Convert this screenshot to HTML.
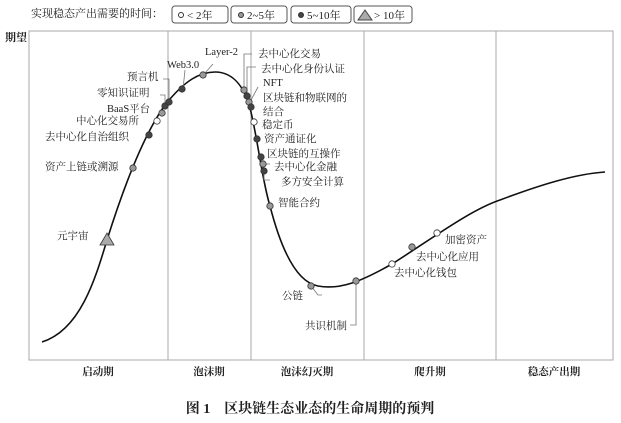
<!DOCTYPE html>
<html><head><meta charset="utf-8"><style>
html,body{margin:0;padding:0;background:#fff;}
svg{display:block;font-family:"Liberation Serif","Noto Serif CJK SC",serif;}
</style></head><body>
<svg width="621" height="423" viewBox="0 0 621 423" xmlns="http://www.w3.org/2000/svg">
<g font-size="11" fill="#222">
<text x="31" y="17">实现稳态产出需要的时间：</text>
</g>
<g fill="none" stroke="#555" stroke-width="1">
<rect x="172" y="6" width="56" height="17" rx="3"/>
<rect x="231" y="6" width="56" height="17" rx="3"/>
<rect x="291" y="6" width="60" height="17" rx="3"/>
<rect x="354" y="6" width="58" height="17" rx="3"/>
</g>
<g font-size="11" fill="#222">
<circle cx="181" cy="15" r="2.5" fill="#fff" stroke="#333"/><text x="187" y="19">&lt; 2年</text>
<circle cx="241" cy="15" r="2.5" fill="#999" stroke="#333"/><text x="247" y="19">2~5年</text>
<circle cx="301" cy="15" r="2.5" fill="#444" stroke="#333"/><text x="307" y="19">5~10年</text>
<polygon points="358,20 365,10 372,20" fill="#aaa" stroke="#444"/><text x="374" y="19">&gt; 10年</text>
</g>
<text x="5" y="41" font-size="11" fill="#222" font-weight="bold">期望</text>
<rect x="29" y="31" width="584" height="329" fill="none" stroke="#aaa" stroke-width="1"/>
<g stroke="#aaa" stroke-width="1">
<line x1="168" y1="31" x2="168" y2="360"/>
<line x1="251" y1="31" x2="251" y2="360"/>
<line x1="364" y1="31" x2="364" y2="360"/>
<line x1="496" y1="31" x2="496" y2="360"/>
</g>
<g font-size="10.5" fill="#222" text-anchor="middle" font-weight="bold">
<text x="98" y="375">启动期</text>
<text x="209" y="375">泡沫期</text>
<text x="307" y="375">泡沫幻灭期</text>
<text x="430" y="375">爬升期</text>
<text x="554" y="375">稳态产出期</text>
</g>
<text x="310" y="413" font-size="14" fill="#222" font-weight="bold" text-anchor="middle">图 1　区块链生态业态的生命周期的预判</text>
<path d="M42,342 C80,330 95,280 107,240 C118,205 140,140 165,105 C185,80 200,72 215,72 C235,72 245,90 250,108 C258,140 262,180 270,206 C280,245 295,282 318,286 C340,290 360,282 392,264 C430,240 470,210 500,200 C540,185 575,174 605,172" fill="none" stroke="#111" stroke-width="1.6"/>
<g stroke="#777" stroke-width="0.8" fill="none">
<polyline points="205,73 213,64"/>
<polyline points="183,89 185,70"/>
<polyline points="169,102 169,79 163,79"/>
<polyline points="165,105 165,95 160,95"/>
<polyline points="244,90 244,54 252,54"/>
<polyline points="247,96 247,67 256,67"/>
<polyline points="250,102 258,87"/>
<polyline points="262,164 270,164"/>
<polyline points="264,171 264,180 270,180"/>
<polyline points="311,286 318,295 322,295"/>
<polyline points="356,281 356,325 350,325"/>
</g>
<g stroke="#333" stroke-width="0.8">
<circle cx="133" cy="168" r="3.2" fill="#999"/>
<circle cx="149" cy="135" r="3.2" fill="#444"/>
<circle cx="157" cy="121" r="3.2" fill="#fff"/>
<circle cx="162" cy="113" r="3.2" fill="#999"/>
<circle cx="165" cy="106" r="3.2" fill="#444"/>
<circle cx="169" cy="102" r="3.2" fill="#444"/>
<circle cx="182" cy="89" r="3.2" fill="#444"/>
<circle cx="203" cy="75" r="3.2" fill="#999"/>
<circle cx="244" cy="90" r="3.2" fill="#999"/>
<circle cx="247" cy="96" r="3.2" fill="#444"/>
<circle cx="249" cy="102" r="3.2" fill="#999"/>
<circle cx="251" cy="107" r="3.2" fill="#444"/>
<circle cx="254" cy="122" r="3.2" fill="#fff"/>
<circle cx="257" cy="139" r="3.2" fill="#444"/>
<circle cx="261" cy="157" r="3.2" fill="#444"/>
<circle cx="263" cy="164" r="3.2" fill="#999"/>
<circle cx="264" cy="171" r="3.2" fill="#444"/>
<circle cx="270" cy="206" r="3.2" fill="#999"/>
<circle cx="311" cy="286" r="3.2" fill="#999"/>
<circle cx="356" cy="281" r="3.2" fill="#999"/>
<circle cx="392" cy="264" r="3.2" fill="#fff"/>
<circle cx="412" cy="247" r="3.2" fill="#999"/>
<circle cx="437" cy="233" r="3.2" fill="#fff"/>
<polygon points="100,245 107,233 114,245" fill="#aaa"/>
</g>
<g font-size="10.5" fill="#222">
<text x="205" y="55">Layer-2</text>
<text x="167" y="68">Web3.0</text>
<text x="127" y="80">预言机</text>
<text x="97" y="96">零知识证明</text>
<text x="107" y="112">BaaS平台</text>
<text x="76" y="124">中心化交易所</text>
<text x="45" y="140">去中心化自治组织</text>
<text x="45" y="170">资产上链或溯源</text>
<text x="57" y="239">元宇宙</text>
<text x="258" y="57">去中心化交易</text>
<text x="261" y="72">去中心化身份认证</text>
<text x="263" y="86">NFT</text>
<text x="263" y="101">区块链和物联网的</text>
<text x="263" y="115">结合</text>
<text x="262" y="128">稳定币</text>
<text x="264" y="142">资产通证化</text>
<text x="267" y="157">区块链的互操作</text>
<text x="274" y="170">去中心化金融</text>
<text x="281" y="185">多方安全计算</text>
<text x="278" y="206">智能合约</text>
<text x="282" y="299">公链</text>
<text x="305" y="329">共识机制</text>
<text x="394" y="276">去中心化钱包</text>
<text x="416" y="260">去中心化应用</text>
<text x="445" y="243">加密资产</text>
</g>
</svg>
</body></html>
